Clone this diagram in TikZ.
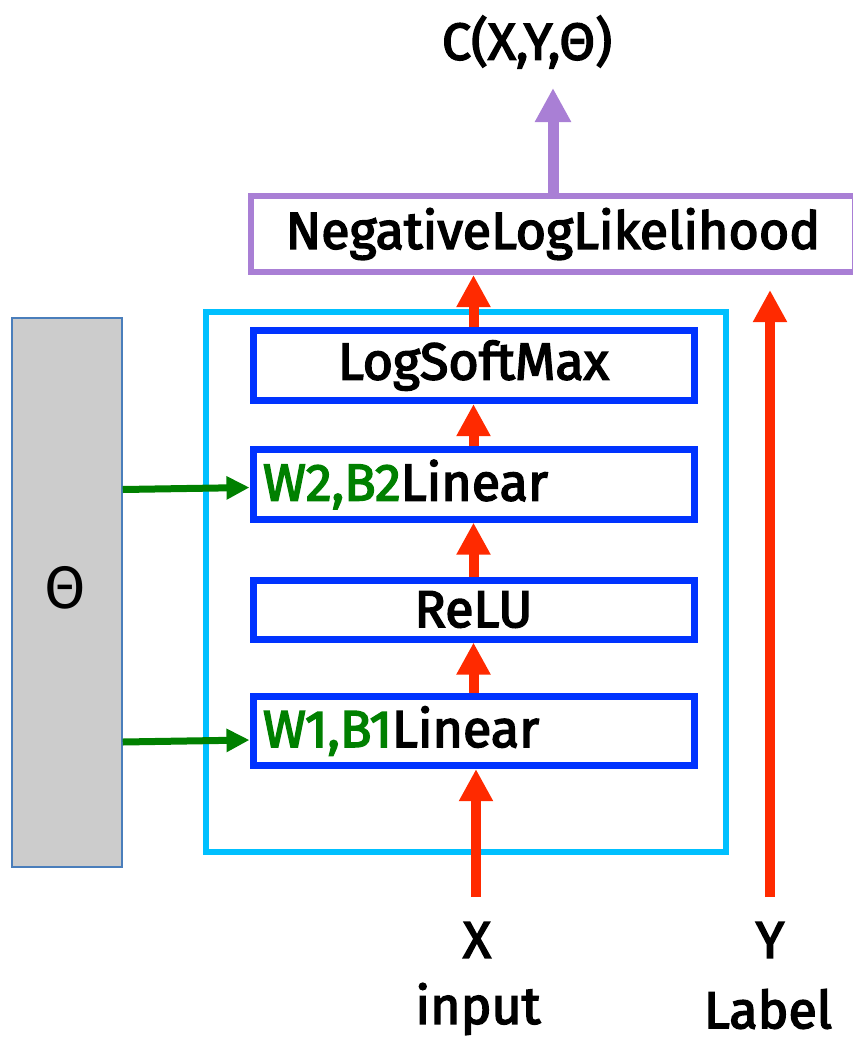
\documentclass[tikz,border=0pt]{standalone}
\usepackage{fontspec}
\setmainfont{Fira Sans}[BoldFont={Fira Sans}, BoldFeatures={FakeBold=3}]
\usetikzlibrary{arrows.meta}
\definecolor{redA}{HTML}{FF2A00}
\definecolor{blueB}{HTML}{0033FF}
\definecolor{cyanN}{HTML}{00C0FF}
\definecolor{purpN}{HTML}{A97FD5}
\definecolor{greenW}{HTML}{008000}
\definecolor{grayT}{HTML}{CCCCCC}
\definecolor{edgeT}{HTML}{4A7EBB}
\tikzset{
  txt/.style={font=\fontsize{52}{60}\selectfont\bfseries, text=black, inner sep=1pt},
  layer/.style={draw=blueB, line width=7pt, minimum width=441pt, minimum height=59pt, txt, inner sep=10pt},
  redarr/.style={draw=redA, line width=10pt, -{Triangle[width=32pt,length=32pt]}},
  greenarr/.style={draw=greenW, line width=7pt, -{Triangle[width=22pt,length=23pt]}},
  purparr/.style={draw=purpN, line width=11pt, -{Triangle[width=34pt,length=34pt]}},
}
\begin{document}
\begin{tikzpicture}[x=1pt,y=-1pt]
\useasboundingbox (0,0) rectangle (852,1042);
% parameter bar
\node[draw=edgeT, line width=1.5pt, fill=grayT, minimum width=110pt, minimum height=549pt, inner sep=0pt] (theta) at (67,592.5) {};
\node[font=\fontsize{60}{62}\selectfont] (thetalbl) at (65,588) {Θ};
% network box
\node[draw=cyanN, line width=6pt, minimum width=520pt, minimum height=540pt] (net) at (466,582) {};
% layers
\node[layer] (lsm) at (473.5,365.5) {LogSoftMax};
\node[layer, text width=421pt, align=left] (lin2) at (473.5,484.5) {\textcolor{greenW}{W2,B2}Linear};
\node[layer] (relu) at (473.5,609.5) {ReLU};
\node[layer, text width=421pt, align=left] (lin1) at (473.5,731) {\textcolor{greenW}{W1,B1}Linear};
% loss
\node[draw=purpN, line width=6pt, minimum width=604pt, minimum height=76pt, txt] (nll) at (553,234) {NegativeLogLikelihood};
\node[txt] (cost) at (527,42) {C(X,Y,Θ)};
% inputs
\node[txt] (xin) at (477,940) {X};
\node[txt] (xlbl) at (478,1009) {input};
\node[txt] (yin) at (770,940) {Y};
\node[txt] (ylbl) at (768,1009) {Label};
\coordinate (xstart) at (476,897);
\coordinate (ystart) at (770,897);
\coordinate (ytip) at (770,290);
\coordinate (ctip) at (553,88);
% connectors
\draw[redarr] (xstart) -- (lin1.south -| xstart);
\draw[redarr] (lin1.north) -- (relu.south);
\draw[redarr] (relu.north) -- (lin2.south);
\draw[redarr] (lin2.north) -- (lsm.south);
\draw[redarr] (lsm.north) -- (nll.south -| lsm.north);
\draw[redarr] (ystart) -- (ytip);
\draw[purparr] (nll.north) -- (ctip);
\draw[greenarr] ([yshift=-5pt]theta.east |- lin2.west) -- ([yshift=-3pt]lin2.west);
\draw[greenarr] ([yshift=-11pt]theta.east |- lin1.west) -- ([yshift=-9pt]lin1.west);
\end{tikzpicture}
\end{document}
